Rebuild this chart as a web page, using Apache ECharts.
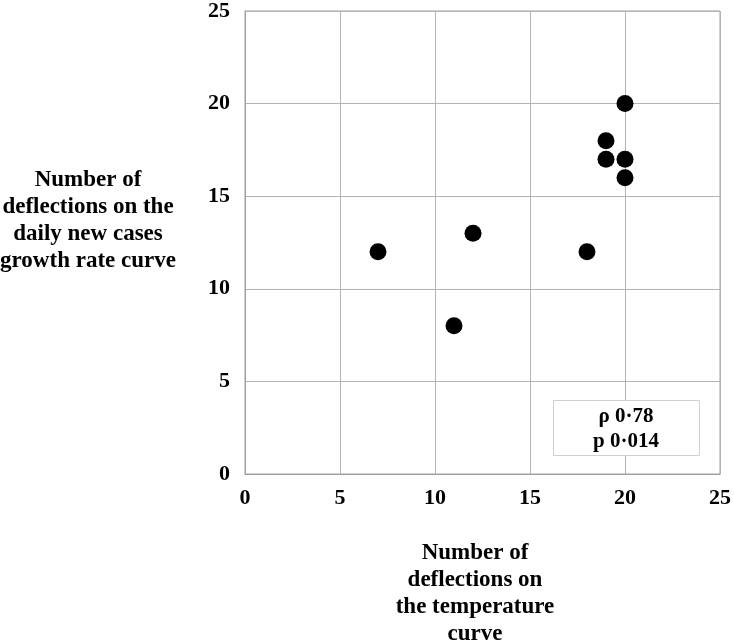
<!DOCTYPE html>
<html><head><meta charset="utf-8">
<script src="https://cdn.jsdelivr.net/npm/echarts@6/dist/echarts.min.js"></script>
<style>html,body{margin:0;padding:0;background:#fff}#c{width:734px;height:644px}</style>
</head><body><div id="c"></div>
<script>
const xValues = [7, 11, 12, 18, 19, 19, 20, 20, 20];
const yValues = [12, 8, 13, 12, 18, 17, 20, 17, 16];
const xTitle = "Number of\ndeflections on\nthe temperature\ncurve";
const yTitle = "Number of\ndeflections on the\ndaily new cases\ngrowth rate curve";
const statsText = "ρ 0·78\np 0·014";
const font = "'Liberation Serif', 'Times New Roman', serif";
const points = xValues.map((x, i) => [x, yValues[i]]);
const chart = echarts.init(document.getElementById('c'), null, {renderer: 'canvas'});
const axisCommon = {
  type: 'value', min: 0, max: 25, interval: 5,
  axisLine: {show: true, lineStyle: {color: '#a0a0a0', width: 1}},
  axisTick: {show: false},
  splitLine: {show: true, lineStyle: {color: '#b4b4b4', width: 1}},
  axisLabel: {color: '#000', fontFamily: font, fontWeight: 'bold', fontSize: 22}
};
chart.setOption({
  animation: false,
  grid: {left: 245, right: 10, top: 9, bottom: 170, show: true, borderColor: '#a0a0a0', borderWidth: 1},
  xAxis: Object.assign({}, axisCommon, {axisLabel: Object.assign({}, axisCommon.axisLabel, {margin: 13})}),
  yAxis: Object.assign({}, axisCommon, {axisLabel: Object.assign({}, axisCommon.axisLabel, {margin: 15})}),
  series: [{
    type: 'scatter', data: points, symbol: 'circle', symbolSize: 17,
    itemStyle: {color: '#000', opacity: 1}
  }],
  graphic: [
    {type: 'rect', left: 553, top: 400, z: 100,
     shape: {width: 146, height: 55}, style: {fill: '#fff', stroke: '#d0d0d0', lineWidth: 1}},
    {type: 'text', x: 626, y: 429, z: 101,
     style: {text: statsText, font: 'bold 21px ' + font, fill: '#000', align: 'center', verticalAlign: 'middle', lineHeight: 25}},
    {type: 'text', x: 88, y: 221,
     style: {text: yTitle, font: 'bold 23px ' + font, fill: '#000', align: 'center', verticalAlign: 'middle', lineHeight: 27}},
    {type: 'text', x: 475, y: 594,
     style: {text: xTitle, font: 'bold 23px ' + font, fill: '#000', align: 'center', verticalAlign: 'middle', lineHeight: 27}}
  ]
});
</script></body></html>
